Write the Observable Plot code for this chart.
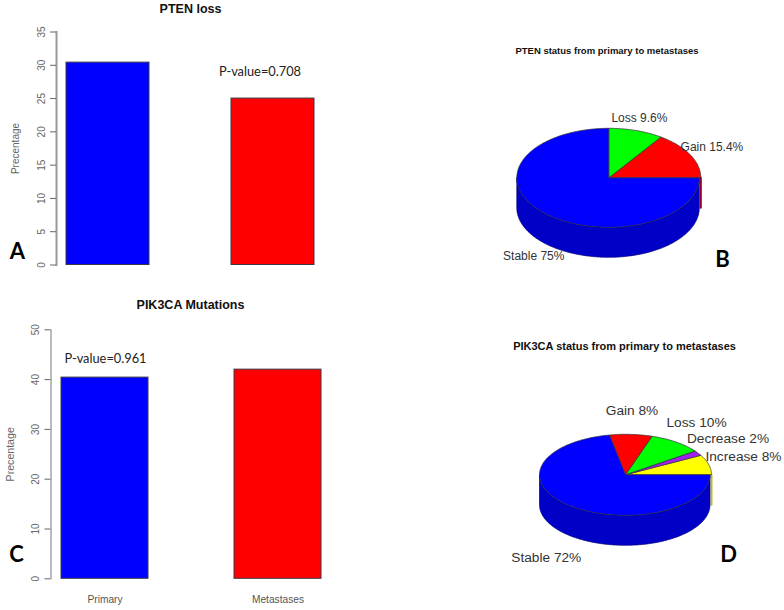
<!DOCTYPE html>
<html>
<head>
<meta charset="utf-8">
<script src="https://cdn.jsdelivr.net/npm/d3@7"></script>
<script src="https://cdn.jsdelivr.net/npm/@observablehq/plot@0.6"></script>
<style>
html,body{margin:0;padding:0;background:#fff}
#page{position:relative;width:784px;height:610px;overflow:hidden;background:#fff}
#page svg{position:absolute;background:transparent;overflow:visible}
</style>
</head>
<body>
<div id="page"></div>
<script>
// ---------- data ----------
const barCategories = ["Primary", "Metastases"];
const ptenLossValues = [30.4, 25];
const pik3caMutationValues = [40.4, 42];
const ptenTicks = [0, 5, 10, 15, 20, 25, 30, 35];
const pik3caTicks = [0, 10, 20, 30, 40, 50];

const ptenStatusLabels = ["Gain", "Loss", "Stable"];
const ptenStatusValues = [15.4, 9.6, 75];
const pik3caStatusLabels = ["Increase", "Decrease", "Loss", "Gain", "Stable"];
const pik3caStatusValues = [8, 2, 10, 8, 72];

// ---------- styles ----------
const SANS = "'Liberation Sans', Arial, sans-serif";
const NOTE = "Lato, 'Open Sans', sans-serif";
const barColors = {Primary: "#0000ff", Metastases: "#ff0000"};
const statusColors = {Gain: "#ff0000", Loss: "#00ff00", Stable: "#0000ff", Increase: "#ffff00", Decrease: "#a020f0"};
const sideColors = {Gain: "#8a0030", Increase: "#c4bc24"};
const page = document.getElementById("page");

function place(svg, left, top) {
  svg.style.left = left + "px";
  svg.style.top = top + "px";
  page.appendChild(svg);
}

function barPanel(o) {
  const rows = barCategories.map((c, i) => ({c, v: o.values[i]}));
  const svg = Plot.plot({
    width: o.width, height: o.height,
    marginLeft: o.axisX, marginRight: 0, marginTop: o.top, marginBottom: o.height - o.bottom,
    style: {background: "transparent", color: "#555", fontFamily: SANS},
    x: {domain: barCategories, range: o.xRange, paddingInner: o.gap, paddingOuter: 0, align: 0, axis: null},
    y: {domain: [0, o.max], axis: null},
    marks: [
      Plot.barY(rows, {x: "c", y: "v", fill: d => barColors[d.c], stroke: "#3a3a46", strokeWidth: 1}),
      Plot.frame({anchor: "left", stroke: o.axisColor, strokeWidth: o.axisWidth}),
      Plot.axisY({anchor: "left", ticks: o.ticks, tickSize: 6, tickPadding: 6, tickRotate: -90,
        fontSize: 10, stroke: "#666", fill: "#666", label: null, tickFormat: d3.format("d")}),
      Plot.axisY({anchor: "left", ticks: [], tickSize: 0, fontSize: o.labelSize, fill: "#666",
        label: "Precentage", labelAnchor: "center", labelArrow: "none", labelOffset: o.labelOffset}),
      o.showX ? Plot.axisX({anchor: "bottom", tickSize: 0, tickPadding: 17, fontSize: 10.2, fill: "#555", label: null}) : null,
      Plot.text([o.title], {frameAnchor: "top-left", lineAnchor: "middle", dx: o.titleX - o.axisX, dy: o.titleY - o.top,
        fontWeight: "bold", fontSize: o.titleSize, fill: "#111", textAnchor: "middle"}),
      Plot.text([o.note], {frameAnchor: "top-left", lineAnchor: "middle", dx: o.noteX - o.axisX, dy: o.noteY - o.top,
        fontFamily: NOTE, fontSize: 12.8, fill: "#222", textAnchor: "middle"}),
      Plot.text([o.letter], {frameAnchor: "top-left", lineAnchor: "middle", dx: o.letterX - o.axisX, dy: o.letterY - o.top,
        fontFamily: NOTE, fontWeight: 700, fontSize: 22, fill: "#000", textAnchor: "middle"})
    ]
  });
  place(svg, 0, o.offset);
}

function piePanel(o) {
  const total = d3.sum(o.values);
  let acc = 0;
  const slices = o.labels.map((label, i) => {
    const a0 = acc / total * 2 * Math.PI;
    acc += o.values[i];
    const a1 = acc / total * 2 * Math.PI;
    return {label, value: o.values[i], a0, a1, mid: (a0 + a1) / 2};
  });
  const arc = (a0, a1) => {
    const n = Math.max(2, Math.ceil((a1 - a0) / 0.02));
    return d3.range(n + 1).map(k => a0 + (a1 - a0) * k / n);
  };
  const depth = o.depth / o.ry;
  const edge = 1 - o.inset / o.rx;
  const left = 480, width = 304;
  const top = o.offset, height = o.height;
  const cx = o.cx - left, cy = o.cy - top;
  // the stable slice and the side wall stop a little short of the right-hand rim
  const rimX = a => Math.cos(a) * (a > 1.5 * Math.PI ? edge : 1);
  const wallPts = [
    ...arc(Math.PI, 2 * Math.PI).map(a => ({x: rimX(a), y: Math.sin(a)})),
    ...arc(Math.PI, 2 * Math.PI).reverse().map(a => ({x: rimX(a), y: Math.sin(a) - depth}))
  ];
  wallPts.push(wallPts[0]);
  const first = slices[0];
  const marks = [
    Plot.line([{x: 1, y: 0}, {x: 1, y: -depth}], {x: "x", y: "y", stroke: sideColors[first.label], strokeWidth: 2}),
    Plot.line(wallPts, {x: "x", y: "y", fill: "#0000c6", stroke: "#00007a", strokeWidth: 0.7}),
  ];
  for (const s of slices) {
    const big = s.label === "Stable";
    const pts = [{x: 0, y: 0},
      ...arc(s.a0, s.a1).map(a => ({x: Math.cos(a) * (big && Math.sin(a) < 0 && Math.cos(a) > 0 ? edge : 1), y: Math.sin(a)})),
      {x: 0, y: 0}];
    marks.push(Plot.line(pts, {x: "x", y: "y", fill: statusColors[s.label], stroke: "#30303c", strokeWidth: 0.7}));
  }
  slices.forEach((s, i) => {
    marks.push(Plot.text([s], {
      x: d => Math.cos(d.mid), y: d => Math.sin(d.mid),
      text: d => `${d.label} ${d.value}%`,
      dx: o.nudges[i][0], dy: o.nudges[i][1],
      fontSize: o.labelSize, fill: "#333", textAnchor: "middle"
    }));
  });
  marks.push(Plot.text([o.title], {frameAnchor: "top-left", lineAnchor: "middle", dx: o.titleX - left, dy: o.titleY - top,
    fontWeight: "bold", fontSize: o.titleSize, fill: "#111", textAnchor: "middle"}));
  marks.push(Plot.text([o.letter], {frameAnchor: "top-left", lineAnchor: "middle", dx: o.letterX - left, dy: o.letterY - top,
    fontFamily: NOTE, fontWeight: 700, fontSize: 22, fill: "#000", textAnchor: "middle"}));
  const svg = Plot.plot({
    width, height, margin: 0,
    style: {background: "transparent", fontFamily: SANS},
    x: {domain: [-1, 1], range: [cx - o.rx, cx + o.rx], axis: null},
    y: {domain: [-1, 1], range: [cy + o.ry, cy - o.ry], axis: null},
    marks
  });
  place(svg, left, top);
}

barPanel({
  values: ptenLossValues, ticks: ptenTicks, max: 35, offset: 0, width: 360, height: 290,
  axisX: 56, top: 31.5, bottom: 264.5, xRange: [66, 315], gap: 0.494, axisColor: "#999", axisWidth: 2,
  labelOffset: 45, labelSize: 10, showX: false,
  title: "PTEN loss", titleX: 190, titleY: 8, titleSize: 12.5,
  note: "P-value=0.708", noteX: 259.5, noteY: 71,
  letter: "A", letterX: 17, letterY: 251
});
barPanel({
  values: pik3caMutationValues, ticks: pik3caTicks, max: 50, offset: 290, width: 360, height: 320,
  axisX: 50.5, top: 39.3, bottom: 288.3, xRange: [61, 321], gap: 0.5, axisColor: "#777", axisWidth: 1,
  labelOffset: 45, labelSize: 10.6, showX: true,
  title: "PIK3CA Mutations", titleX: 190, titleY: 14.5, titleSize: 12.5,
  note: "P-value=0.961", noteX: 105, noteY: 68.5,
  letter: "C", letterX: 16, letterY: 264
});
piePanel({
  labels: ptenStatusLabels, values: ptenStatusValues, offset: 20, height: 270,
  cx: 608.3, cy: 177.3, rx: 92, ry: 49.5, depth: 30, inset: 1.5,
  nudges: [[21.7, -7.6], [3.3, -12.7], [-10, 43.4]], labelSize: 12,
  title: "PTEN status from primary to metastases", titleX: 606.5, titleY: 50.5, titleSize: 9.5,
  letter: "B", letterX: 722, letterY: 259
});
piePanel({
  labels: pik3caStatusLabels, values: pik3caStatusValues, offset: 320, height: 270,
  cx: 625, cy: 474.3, rx: 86, ry: 40.5, depth: 30, inset: 1.5,
  nudges: [[34.7, -8.6], [29.9, -14.3], [20.5, -19.2], [1.1, -23.6], [-24.4, 51.5]], labelSize: 13.7,
  title: "PIK3CA status from primary to metastases", titleX: 624, titleY: 345.5, titleSize: 11,
  letter: "D", letterX: 728, letterY: 554
});
</script>
</body>
</html>
